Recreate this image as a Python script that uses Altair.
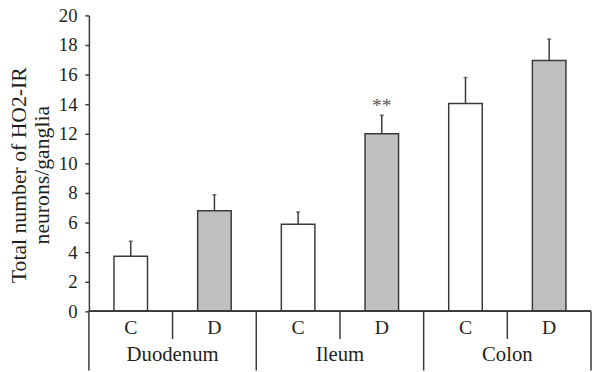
import altair as alt
import pandas as pd

# ---- data ----
groups = ["Duodenum", "Ileum", "Colon"]
subs = ["C", "D"]
means = [3.72, 6.80, 5.88, 12.0, 14.05, 16.95]        # Duodenum C, D, Ileum C, D, Colon C, D
err_tops = [4.74, 7.88, 6.71, 13.25, 15.8, 18.4]     # top of error bar
sig_labels = ["", "", "", "**", "", ""]
sig_level = 13.5
y_ticks = list(range(0, 21, 2))
y_title = ["Total number of HO2-IR", "neurons/ganglia"]

FONT = "Liberation Serif"
INK = "#231f20"
LINE = "#3a3a3a"

rows = []
i = 0
for g in groups:
    for s in subs:
        rows.append({"group": g, "sub": s, "pos": i + 0.5, "value": means[i],
                     "err": err_tops[i], "sig": sig_labels[i], "sig_y": sig_level})
        i += 1
df = pd.DataFrame(rows)

gdf = pd.DataFrame({"group": groups,
                    "center": [2 * k + 1 for k in range(len(groups))]})
edges = pd.DataFrame({"edge": [2 * k for k in range(len(groups) + 1)]})
sig_df = df[df["sig"] != ""]

xs = alt.Scale(domain=[0, 2 * len(groups)], nice=False, zero=False, padding=0)
ys = alt.Scale(domain=[0, 20], nice=False, padding=0)

yaxis = alt.Axis(values=y_ticks, grid=False, tickSize=4, tickColor=LINE,
                 tickWidth=1.5, domainColor=LINE, domainWidth=1.5,
                 labelFont=FONT, labelFontSize=19, labelColor=INK,
                 labelPadding=8, labelOverlap=False, title=None)


def Y(field):
    return alt.Y(field, scale=ys, axis=yaxis)


def X(field):
    return alt.X(field, scale=xs, axis=None)


base = alt.Chart(df)

bars = base.mark_bar(orient="vertical", size=34, stroke=LINE, strokeWidth=1.5).encode(
    x=X("pos:Q"),
    y=Y("value:Q"),
    y2=alt.datum(0),
    fill=alt.condition(alt.datum.sub == "D", alt.value("#c0c0c0"), alt.value("white")),
)

err_line = base.mark_rule(color=LINE, strokeWidth=1.5).encode(
    x=X("pos:Q"), y=Y("value:Q"), y2="err:Q")

err_cap = base.mark_tick(orient="horizontal", size=4, thickness=1.5, color=LINE).encode(
    x=X("pos:Q"), y=Y("err:Q"))

sig = alt.Chart(sig_df).mark_text(font=FONT, fontSize=20, color="#555555",
                                  baseline="alphabetic").encode(
    x=X("pos:Q"), y=Y("sig_y:Q"), text="sig:N")

baseline = alt.Chart(edges).mark_rule(color=LINE, strokeWidth=1.5).encode(
    x=alt.datum(0, scale=xs, axis=None), x2=alt.datum(2 * len(groups)),
    y=alt.datum(0, scale=ys, axis=yaxis))

sub_sep = alt.Chart(gdf).mark_rule(color=LINE, strokeWidth=1.5).encode(
    x=X("center:Q"), y=alt.value(300), y2=alt.value(328))

grp_sep = alt.Chart(edges).mark_rule(color=LINE, strokeWidth=1.5).encode(
    x=X("edge:Q"), y=alt.value(300), y2=alt.value(360))

sub_text = base.mark_text(font=FONT, fontSize=20, color=INK, baseline="alphabetic").encode(
    x=X("pos:Q"), y=alt.value(323), text="sub:N")

grp_text = alt.Chart(gdf).mark_text(font=FONT, fontSize=21, color=INK,
                                    baseline="alphabetic").encode(
    x=X("center:Q"), y=alt.value(350), text="group:N")

title_text = alt.Chart(gdf.head(1)).mark_text(
    font=FONT, fontSize=22, color=INK, angle=270, align="center",
    baseline="alphabetic", lineHeight=24).encode(
    x=alt.value(-64), y=alt.value(162), text=alt.value(y_title))

chart = alt.layer(bars, err_line, err_cap, sig, baseline, sub_sep, grp_sep,
                  sub_text, grp_text, title_text).properties(
    width=509, height=300,
    autosize=alt.AutoSizeParams(type="none"),
    padding={"left": 82, "top": 5, "right": 1, "bottom": 59},
).configure_view(stroke=None)

chart.save("out.html", embed_options={"renderer": "svg", "actions": False})
